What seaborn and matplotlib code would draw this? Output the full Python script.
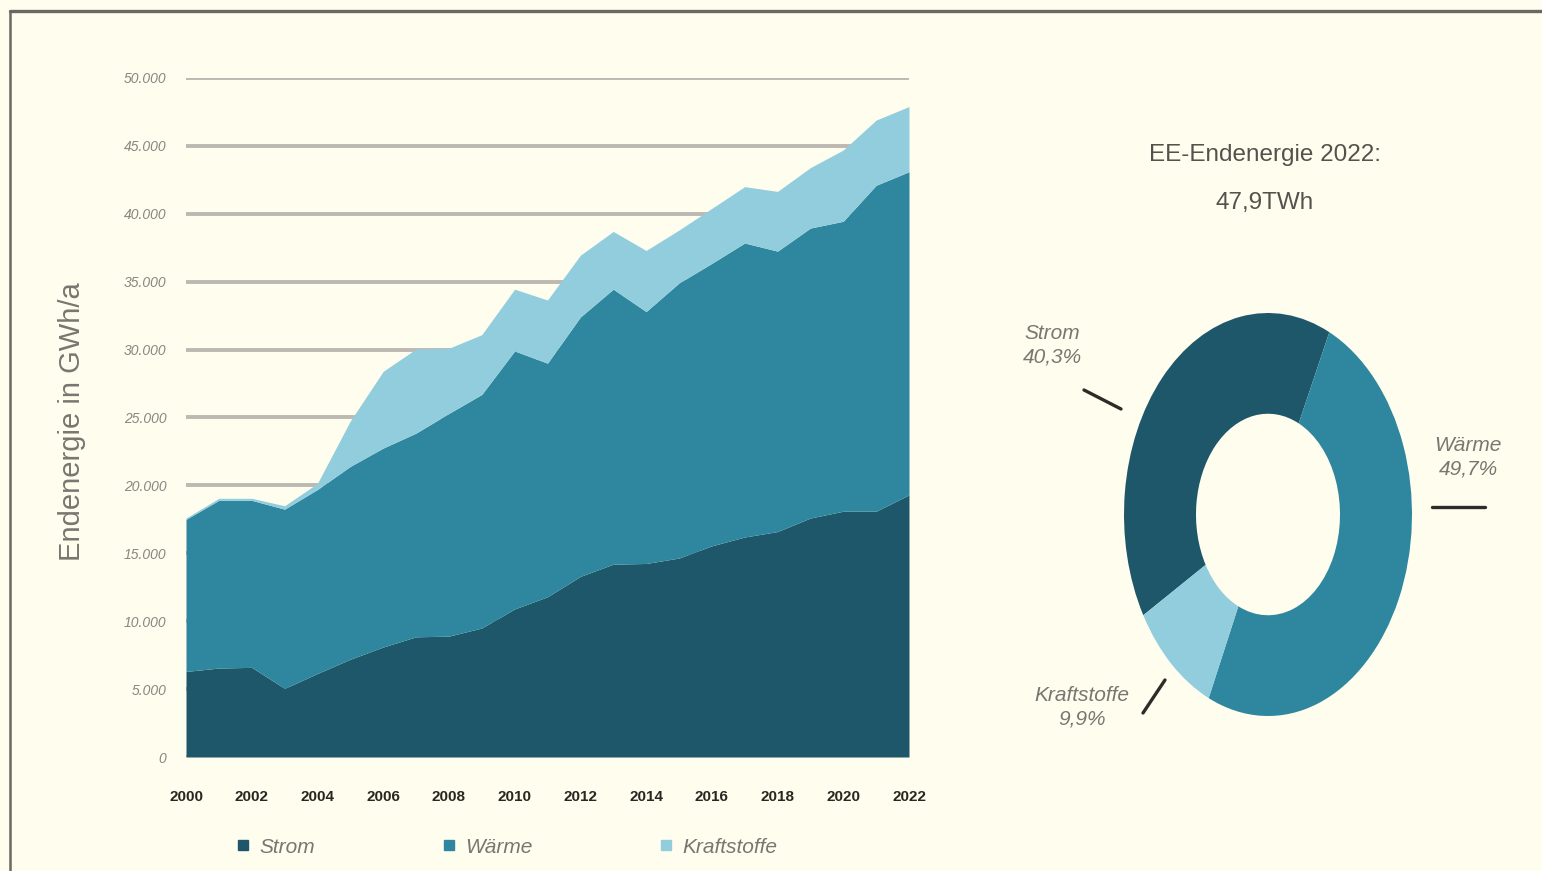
import matplotlib
matplotlib.use("Agg")
import matplotlib.pyplot as plt
from matplotlib.lines import Line2D
from matplotlib.ticker import FuncFormatter
import seaborn as sns

# --------------------------------
# Daten (GWh/a)
# --------------------------------
years = list(range(2000, 2023))
strom = [6300, 6550, 6600, 5050, 6150, 7200, 8100, 8850, 8900, 9500, 10900, 11800,
         13300, 14200, 14250, 14650, 15550, 16200, 16600, 17600, 18100, 18100, 19300]
waerme = [11200, 12350, 12300, 13200, 13550, 14200, 14650, 15000, 16400, 17200, 19000, 17200,
          19100, 20250, 18550, 20250, 20800, 21650, 20650, 21350, 21350, 24000, 23800]
kraftstoffe = [100, 150, 150, 250, 450, 3350, 5650, 6200, 4800, 4400, 4550, 4650,
               4550, 4250, 4500, 3900, 4050, 4150, 4400, 4450, 5250, 4800, 4800]

serien = ["Strom", "Wärme", "Kraftstoffe"]
anteile_2022 = [40.3, 49.7, 9.9]
anteil_labels = ["Strom\n40,3%", "Wärme\n49,7%", "Kraftstoffe\n9,9%"]
y_ticks = list(range(0, 50001, 5000))
x_ticks = list(range(2000, 2023, 2))

farben = ["#1E5769", "#2E879E", "#92CDDE"]
bg = "#FFFDEE"

sns.set_style("white")
plt.rcParams["font.family"] = ["Liberation Sans", "DejaVu Sans"]

W, H = 1542, 871
fig = plt.figure(figsize=(W / 100, H / 100), dpi=100, facecolor=bg)

# Rahmen oben / links
fig.add_artist(Line2D([10 / W, 1], [1 - 11.5 / H, 1 - 11.5 / H], color="#6b6763", lw=2.4))
fig.add_artist(Line2D([10 / W, 10 / W], [0, 1 - 11.5 / H], color="#6b6763", lw=1.8))

# --------------------------------
# Gestapelte Fläche
# --------------------------------
ax = fig.add_axes([186 / W, 1 - 757 / H, (909 - 186) / W, (757 - 78) / H])
ax.set_facecolor(bg)
ax.stackplot(years, strom, waerme, kraftstoffe, colors=farben, labels=serien, lw=0)
ax.set_xlim(2000, 2022)
ax.set_ylim(0, 50000)
ax.set_yticks(y_ticks)
ax.set_xticks(x_ticks)
ax.yaxis.set_major_formatter(FuncFormatter(lambda v, p: f"{int(v):,}".replace(",", ".")))
ax.set_axisbelow(True)
ax.yaxis.grid(True, color="#BDB9B2", lw=2.8)
ax.xaxis.grid(False)
for s in ax.spines.values():
    s.set_visible(False)
ax.tick_params(axis="y", length=0, pad=14, labelsize=10, labelcolor="#8a8580")
ax.tick_params(axis="x", length=0, pad=24, labelsize=11, labelcolor="#2a2622")
for t in ax.get_yticklabels():
    t.set_fontstyle("italic")
for t in ax.get_xticklabels():
    t.set_fontweight("bold")

fig.text(72 / W, 1 - 422 / H, "Endenergie in GWh/a", rotation=90, ha="center", va="center",
         fontsize=21, color="#7a7570")

handles = [Line2D([], [], marker="s", linestyle="none", markersize=7, color=c) for c in farben]
leg = fig.legend(handles, serien, loc="center left", bbox_to_anchor=(216 / W, 1 - 847 / H),
                 ncol=3, frameon=False, columnspacing=6.0, handletextpad=0.4,
                 handlelength=0.8, fontsize=15)
for t in leg.get_texts():
    t.set_fontstyle("italic")
    t.set_color("#7a7570")

# --------------------------------
# Donut 2022
# --------------------------------
ax2 = fig.add_axes([1124 / W, 1 - 716 / H, 288 / W, 403 / H])
ax2.pie(anteile_2022, colors=farben, startangle=210, counterclock=False,
        wedgeprops=dict(width=0.5, linewidth=0))
ax2.set_aspect("auto")
ax2.set_xlim(-1, 1)
ax2.set_ylim(-1, 1)
ax2.axis("off")

fig.text(1265 / W, 1 - 155 / H, "EE-Endenergie 2022:", ha="center", va="center",
         fontsize=17.5, color="#55514d")
fig.text(1265 / W, 1 - 203 / H, "47,9TWh", ha="center", va="center",
         fontsize=17.5, color="#55514d")

label_pos = [(1052, 345), (1468, 457), (1082, 707)]
for (x, y), txt in zip(label_pos, anteil_labels):
    fig.text(x / W, 1 - y / H, txt, ha="center", va="center", fontsize=15,
             fontstyle="italic", color="#7a7570", linespacing=1.3)

leader = [((1084, 1121), (390, 409)), ((1432, 1485), (507, 507)), ((1143, 1165), (713, 680))]
for xs, ys in leader:
    fig.add_artist(Line2D([x / W for x in xs], [1 - y / H for y in ys], color="#2f2b28", lw=2.4))

fig.savefig("out.png", dpi=100, facecolor=bg)
